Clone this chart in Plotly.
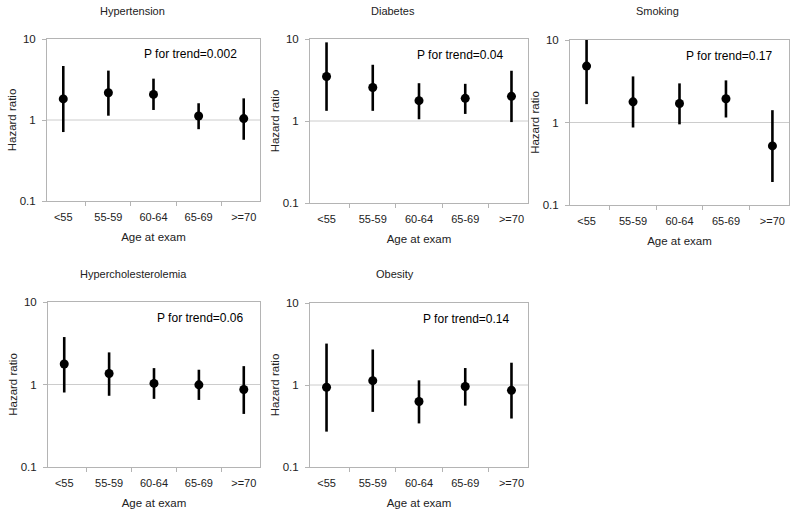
import plotly.graph_objects as go

categories = ["<55", "55-59", "60-64", "65-69", ">=70"]

panel_titles = ["Hypertension", "Diabetes", "Smoking", "Hypercholesterolemia", "Obesity"]
p_trend = ["P for trend=0.002", "P for trend=0.04", "P for trend=0.17", "P for trend=0.06", "P for trend=0.14"]

hypertension_hr = [1.82, 2.17, 2.07, 1.12, 1.04]
hypertension_lo = [0.71, 1.13, 1.33, 0.77, 0.57]
hypertension_hi = [4.64, 4.07, 3.24, 1.61, 1.85]

diabetes_hr = [3.49, 2.56, 1.77, 1.89, 2.00]
diabetes_lo = [1.33, 1.33, 1.05, 1.22, 0.97]
diabetes_hi = [9.10, 4.85, 2.89, 2.84, 4.10]

smoking_hr = [4.83, 1.78, 1.70, 1.94, 0.52]
smoking_lo = [1.67, 0.87, 0.95, 1.15, 0.19]
smoking_hi = [11.2, 3.62, 2.98, 3.24, 1.41]

hyperchol_hr = [1.77, 1.36, 1.03, 0.99, 0.87]
hyperchol_lo = [0.80, 0.73, 0.67, 0.65, 0.44]
hyperchol_hi = [3.76, 2.45, 1.58, 1.51, 1.67]

obesity_hr = [0.94, 1.13, 0.63, 0.96, 0.86]
obesity_lo = [0.27, 0.47, 0.34, 0.56, 0.39]
obesity_hi = [3.20, 2.71, 1.14, 1.61, 1.87]

series = [
    (hypertension_hr, hypertension_lo, hypertension_hi),
    (diabetes_hr, diabetes_lo, diabetes_hi),
    (smoking_hr, smoking_lo, smoking_hi),
    (hyperchol_hr, hyperchol_lo, hyperchol_hi),
    (obesity_hr, obesity_lo, obesity_hi),
]

W, H = 800, 518
# plot-area pixel boxes: (left, right, top, bottom)
boxes = [
    (47, 260, 39, 201),
    (310, 528, 39, 203),
    (570, 789, 40, 205),
    (48, 260, 302, 467),
    (310, 528, 303, 467),
]
title_x = [132, 393, 657, 133, 395]
title_y = [11, 11, 11, 274, 274]
ptext_x = [0.9, 0.9, 0.935, 0.933, 0.926]

FONT = "Liberation Sans, Arial, sans-serif"
FRAME = "#b4b4b4"
TXT = "#222222"

fig = go.Figure()
layout = dict(
    width=W, height=H, margin=dict(l=0, r=0, t=0, b=0, autoexpand=False),
    paper_bgcolor="white", plot_bgcolor="white", showlegend=False,
    font=dict(family=FONT, size=11, color=TXT),
)
annotations = []
shapes = []

for i, ((hr, lo, hi), box) in enumerate(zip(series, boxes)):
    n = "" if i == 0 else str(i + 1)
    xa, ya = "x" + n, "y" + n
    l, r, t, b = box
    fig.add_trace(go.Scatter(
        x=categories, y=hr, mode="markers",
        xaxis=xa, yaxis=ya, cliponaxis=False,
        marker=dict(color="black", size=9),
        error_y=dict(type="data", symmetric=False,
                     array=[h - v for h, v in zip(hi, hr)],
                     arrayminus=[v - m for v, m in zip(hr, lo)],
                     color="black", thickness=2.6, width=0),
    ))
    layout["xaxis" + n] = dict(
        domain=[l / W, r / W], anchor=ya, type="category", automargin=False,
        categoryorder="array", categoryarray=categories,
        tickson="boundaries", ticks="outside", ticklen=4, tickcolor=FRAME,
        ticklabelstandoff=6,
        showline=True, linecolor=FRAME, linewidth=1, mirror=True,
        showgrid=False, zeroline=False,
        tickfont=dict(size=11, color=TXT),
        title=dict(text="Age at exam", font=dict(size=11.5, color=TXT), standoff=10),
    )
    layout["yaxis" + n] = dict(
        domain=[1 - b / H, 1 - t / H], anchor=xa, type="log", range=[-1, 1],
        automargin=False,
        tickvals=[0.1, 1, 10], ticktext=["0.1", "1", "10"],
        ticks="outside", ticklen=4, tickcolor=FRAME, ticklabelstandoff=4,
        showline=True, linecolor=FRAME, linewidth=1, mirror=True,
        showgrid=False, zeroline=False,
        tickfont=dict(size=11.5, color=TXT),
        title=dict(text="Hazard ratio", font=dict(size=11.5, color=TXT), standoff=0),
    )
    shapes.append(dict(type="line", xref=xa + " domain", yref=ya,
                       x0=0, x1=1, y0=1, y1=1,
                       line=dict(color="#cccccc", width=1), layer="below"))
    annotations.append(dict(text=panel_titles[i], xref="paper", yref="paper",
                            x=title_x[i] / W, y=1 - title_y[i] / H,
                            xanchor="center", yanchor="middle", showarrow=False,
                            font=dict(size=11, color=TXT)))
    annotations.append(dict(text=p_trend[i], xref=xa + " domain", yref=ya + " domain",
                            x=ptext_x[i], y=0.905, xanchor="right", yanchor="middle",
                            showarrow=False, font=dict(size=12, color="black")))

layout["annotations"] = annotations
layout["shapes"] = shapes
fig.update_layout(**layout)
fig.write_html("out.html", config={"displayModeBar": False},
               post_script="document.body.style.margin='0';document.body.style.padding='0';")
